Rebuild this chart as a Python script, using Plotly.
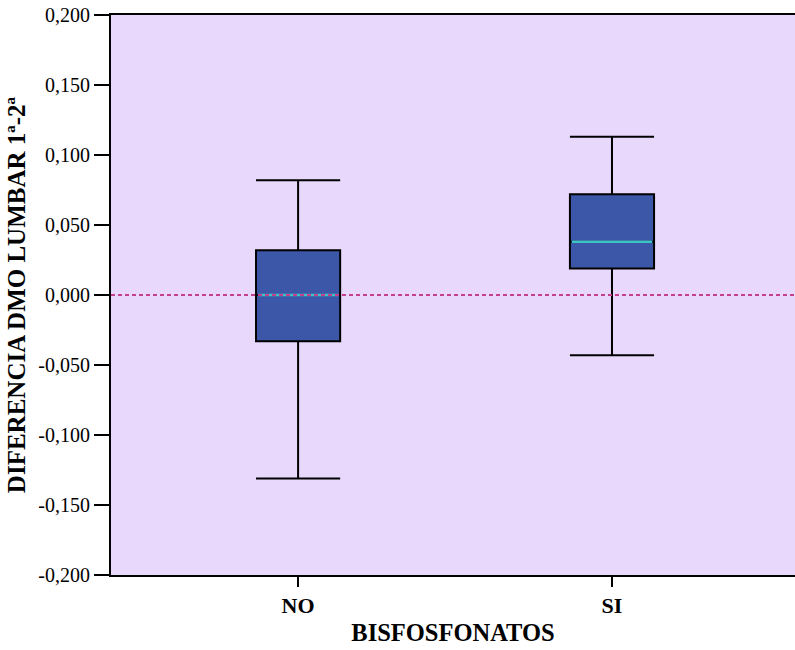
import plotly.graph_objects as go

categories = ["NO", "SI"]
lower_whisker = [-0.131, -0.043]
q1 = [-0.033, 0.019]
median = [0.000, 0.038]
q3 = [0.032, 0.072]
upper_whisker = [0.082, 0.113]
y_ticks = [-0.2, -0.15, -0.1, -0.05, 0.0, 0.05, 0.1, 0.15, 0.2]
y_ticktext = [f"{v:.3f}".replace(".", ",") for v in y_ticks]

box_w = 0.268
fig = go.Figure()
fig.add_trace(go.Box(
    x=categories, q1=q1, median=median, q3=q3,
    lowerfence=lower_whisker, upperfence=upper_whisker,
    fillcolor="#3C56A8", line=dict(color="black", width=2),
    width=box_w, whiskerwidth=1, boxpoints=False, showlegend=False,
    hoverinfo="skip",
))

shapes = [dict(type="line", xref="paper", x0=0, x1=1, yref="y", y0=0, y1=0,
               line=dict(color="#C4408A", width=2, dash="4px,3px"), layer="above")]
for i, m in enumerate(median):
    shapes.insert(0, dict(type="line", xref="x", x0=i - box_w / 2 + 0.006, x1=i + box_w / 2 - 0.006,
                          yref="y", y0=m, y1=m, line=dict(color="#3EC4C4", width=2.5), layer="above"))

fig.update_layout(
    width=795, height=650,
    margin=dict(l=111, r=0, t=15, b=75),
    paper_bgcolor="white", plot_bgcolor="#E8D8FC",
    font=dict(family="Liberation Serif", color="black"),
    shapes=shapes,
    xaxis=dict(
        type="category", range=[-0.596, 1.583],
        tickvals=categories, ticktext=["<b>" + c + "</b>" for c in categories],
        tickfont=dict(size=22), ticks="outside", ticklen=10, tickwidth=1.5, tickcolor="black",
        showline=True, linecolor="black", linewidth=2, mirror=True, showgrid=False,
        title=dict(text="<b>BISFOSFONATOS</b>", font=dict(size=24.5), standoff=6),
    ),
    yaxis=dict(
        range=[-0.2, 0.2], tickvals=y_ticks, ticktext=y_ticktext,
        tickfont=dict(size=20), ticks="outside", ticklen=15, tickwidth=1.5, tickcolor="black",
        showline=True, linecolor="black", linewidth=2, showgrid=False, zeroline=False,
        title=dict(text="<b>DIFERENCIA DMO LUMBAR 1ª-2ª</b>", font=dict(size=25), standoff=6),
    ),
)
fig.write_html("out.html")
